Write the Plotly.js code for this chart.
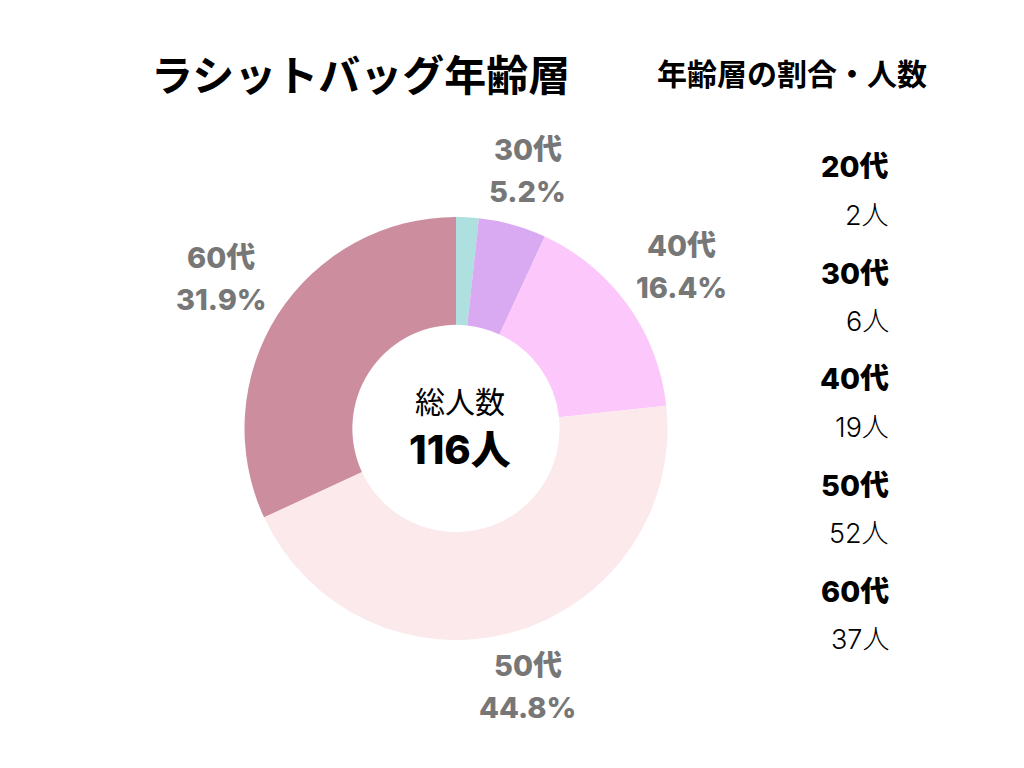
<!DOCTYPE html>
<html>
<head>
<meta charset="utf-8">
<script src="https://cdn.plot.ly/plotly-3.0.1.min.js"></script>
<style>html,body{margin:0;padding:0;background:#fff;}#chart{width:1024px;height:768px;}</style>
</head>
<body>
<div id="chart"></div>
<script>
var categories = ["20代", "30代", "40代", "50代", "60代"];
var counts = [2, 6, 19, 52, 37];
var percentLabels = ["1.7%", "5.2%", "16.4%", "44.8%", "31.9%"];
var sliceColors = ["#aee0df", "#d9aaf2", "#fcc8fc", "#fbe9eb", "#cc8e9e"];
var chartTitle = "ラシットバッグ年齢層";
var sideTitle = "年齢層の割合・人数";
var centerLabel = "総人数";
var unit = "人";

var W = 1024, H = 768;
var FONT = "Noto Sans CJK JP, Noto Sans, sans-serif";
var NUMFONT = "Inter, Noto Sans CJK JP, sans-serif";
var cxPx = 456, cyPx = 428.5, R = 211.5;
var total = counts.reduce(function(a, b){ return a + b; }, 0);

var trace = {
  type: "pie",
  labels: categories,
  values: counts,
  sort: false,
  direction: "clockwise",
  rotation: 0,
  hole: 0.49,
  textinfo: "none",
  hoverinfo: "none",
  marker: { colors: sliceColors, line: { width: 0 } },
  domain: {
    x: [(cxPx - R) / W, (cxPx + R) / W],
    y: [(H - cyPx - R) / H, (H - cyPx + R) / H]
  },
  showlegend: false
};

var annotations = [];
// titles
annotations.push({ xref: "paper", yref: "paper", x: 360 / W, y: 1 - 72 / H, xanchor: "center", yanchor: "middle",
  text: "<b>" + chartTitle + "</b>", showarrow: false, font: { family: FONT, size: 42, color: "#000" } });
annotations.push({ xref: "paper", yref: "paper", x: 792 / W, y: 1 - 72 / H, xanchor: "center", yanchor: "middle",
  text: "<b>" + sideTitle + "</b>", showarrow: false, font: { family: FONT, size: 30, color: "#000" } });
// center
annotations.push({ xref: "paper", yref: "paper", x: 460 / W, y: 1 - 400 / H, xanchor: "center", yanchor: "middle",
  text: centerLabel, showarrow: false, font: { family: FONT, size: 30, color: "#000" } });
annotations.push({ xref: "paper", yref: "paper", x: 460 / W, y: 1 - 449 / H, xanchor: "center", yanchor: "middle",
  text: total + unit, showarrow: false, font: { family: NUMFONT, size: 40, weight: 800, color: "#000" } });

// outside labels computed from data
var cum = 0;
for (var i = 0; i < counts.length; i++) {
  var frac = counts[i] / total;
  var mid = (cum + frac / 2) * 2 * Math.PI;
  cum += frac;
  if (frac < 0.03) continue;
  var r = 262 + 20 * Math.abs(Math.sin(mid));
  var lx = cxPx + r * Math.sin(mid);
  var ly = cyPx - r * Math.cos(mid);
  annotations.push({ xref: "paper", yref: "paper", x: lx / W, y: 1 - (ly - 21) / H, xanchor: "center", yanchor: "middle",
    text: categories[i], showarrow: false, font: { family: NUMFONT, size: 29, weight: 800, color: "#777777" } });
  annotations.push({ xref: "paper", yref: "paper", x: lx / W, y: 1 - (ly + 21) / H, xanchor: "center", yanchor: "middle",
    text: percentLabels[i], showarrow: false, font: { family: NUMFONT, size: 29, weight: 800, color: "#777777" } });
}

// right side list
for (var j = 0; j < categories.length; j++) {
  var y0 = 167 + j * 106;
  annotations.push({ xref: "paper", yref: "paper", x: 891 / W, y: 1 - y0 / H, xanchor: "right", yanchor: "middle",
    text: categories[j], showarrow: false, font: { family: NUMFONT, size: 29, weight: 800, color: "#000" } });
  annotations.push({ xref: "paper", yref: "paper", x: 891 / W, y: 1 - (y0 + 48) / H, xanchor: "right", yanchor: "middle",
    text: counts[j] + unit, showarrow: false, font: { family: NUMFONT, size: 27, weight: 300, color: "#000" } });
}

var layout = {
  width: W, height: H,
  margin: { l: 0, r: 0, t: 0, b: 0 },
  paper_bgcolor: "#fff",
  plot_bgcolor: "#fff",
  annotations: annotations,
  showlegend: false
};

Plotly.newPlot("chart", [trace], layout, { displayModeBar: false, staticPlot: true });
</script>
</body>
</html>
